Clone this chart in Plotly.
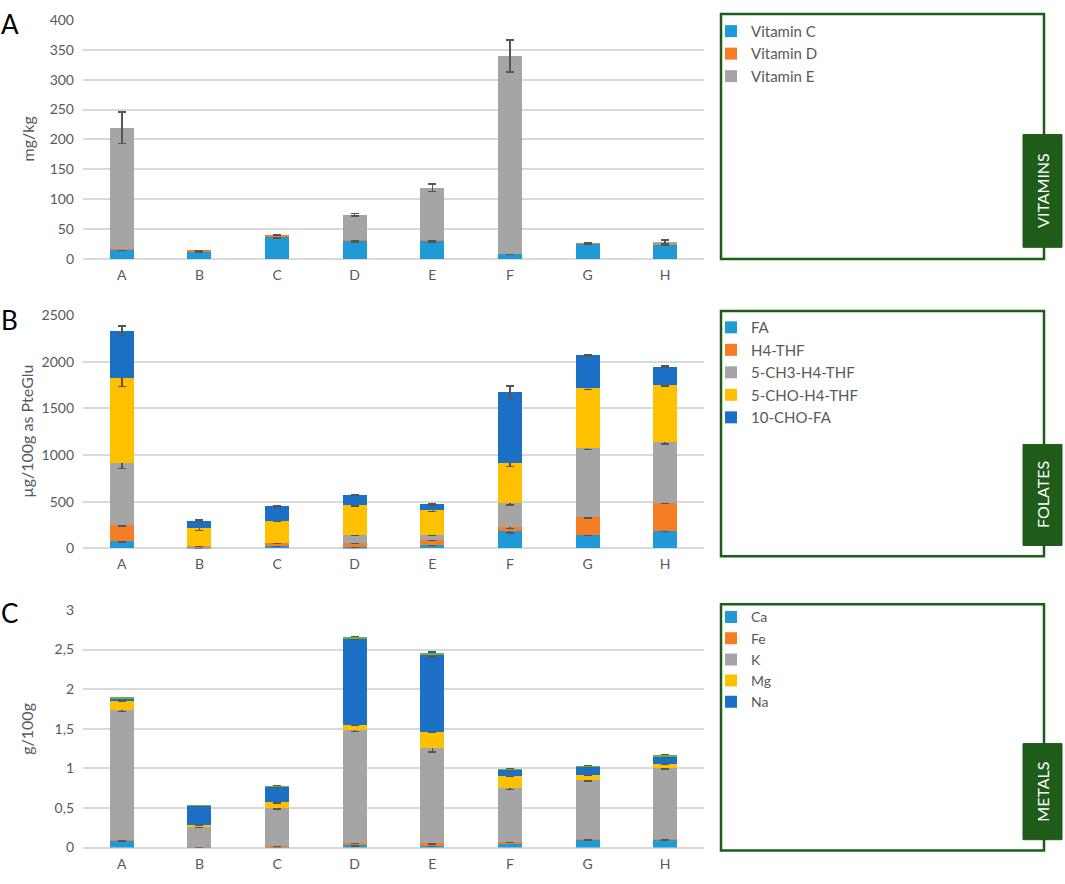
import plotly.graph_objects as go

W, H = 1065, 884

samples = ["A", "B", "C", "D", "E", "F", "G", "H"]

# A - vitamins (mg/kg)
vitamin_names = ["Vitamin C", "Vitamin D", "Vitamin E"]
vitamin_c = [17, 13, 38, 31, 31, 9, 26, 25]
vitamin_d = [0.5, 1, 1.5, 0.3, 0.3, 0.3, 1, 0.3]
vitamin_e = [202, 0, 0, 43, 88, 330, 0, 4]
vitamin_c_err = [2, 1.5, 2.5, 2, 2, 1.5, 1.5, 1]
vitamin_d_err = [0, 0, 0, 0, 0, 0, 0, 0]
vitamin_e_err = [26, 0, 0, 2, 6, 27, 0, 3]

# B - folates (ug/100g as PteGlu)
folate_names = ["FA", "H4-THF", "5-CH3-H4-THF", "5-CHO-H4-THF", "10-CHO-FA"]
fa = [77, 3, 28, 14, 35, 186, 147, 186]
h4_thf = [179, 22, 32, 46, 56, 42, 186, 305]
ch3_thf = [663, 3, 3, 87, 56, 256, 747, 649]
cho_thf = [904, 190, 229, 316, 260, 435, 638, 613]
cho_fa = [509, 73, 158, 105, 66, 753, 351, 193]
fa_err = [8, 2, 3, 3, 5, 22, 3, 5]
h4_thf_err = [15, 3, 8, 5, 5, 15, 5, 8]
ch3_thf_err = [65, 0, 0, 5, 5, 22, 20, 20]
cho_thf_err = [90, 25, 5, 8, 10, 40, 15, 15]
cho_fa_err = [50, 15, 5, 3, 5, 65, 8, 8]

# C - metals (g/100g)
metal_names = ["Ca", "Fe", "K", "Mg", "Na"]
ca = [0.095, 0.005, 0.005, 0.03, 0.025, 0.054, 0.103, 0.103]
fe = [0.005, 0.003, 0.015, 0.03, 0.028, 0.016, 0.008, 0.005]
k = [1.64, 0.26, 0.475, 1.42, 1.205, 0.677, 0.747, 0.895]
mg = [0.115, 0.021, 0.075, 0.07, 0.202, 0.161, 0.062, 0.054]
na = [0.03, 0.24, 0.2, 1.095, 0.975, 0.074, 0.099, 0.099]
other = [0.008, 0.005, 0.007, 0.012, 0.01, 0.008, 0.008, 0.008]
ca_err = [0.01, 0.003, 0.003, 0.01, 0.01, 0.005, 0.01, 0.005]
fe_err = [0.003, 0.002, 0.005, 0.01, 0.01, 0.005, 0.003, 0.003]
k_err = [0.02, 0.01, 0.01, 0.015, 0.05, 0.015, 0.02, 0.015]
mg_err = [0.01, 0.003, 0.01, 0.005, 0.005, 0.01, 0.01, 0.01]
na_err = [0.01, 0.003, 0.01, 0.01, 0.03, 0.01, 0.01, 0.01]

colors = ["#1f9ad6", "#f47d25", "#a5a5a5", "#ffc000", "#1b6fc4"]
GREEN = "#1f5c1a"
TXT = "#595959"
FONT = "Lato"


def px_x(v):
    return v / W


def px_y(v):
    return 1 - v / H


fig = go.Figure()


def add_bars(axis, legend, names, values, errors):
    for i, (name, vals, errs) in enumerate(zip(names, values, errors)):
        fig.add_trace(go.Bar(
            x=samples, y=vals, name=name,
            xaxis="x" if axis == "" else "x" + axis,
            yaxis="y" if axis == "" else "y" + axis,
            legend=legend,
            marker=dict(color=colors[i], line=dict(width=0)),
            error_y=dict(type="data", array=errs, color="#555555", thickness=1.6, width=4),
        ))


add_bars("", "legend", vitamin_names, [vitamin_c, vitamin_d, vitamin_e],
         [vitamin_c_err, vitamin_d_err, vitamin_e_err])
add_bars("2", "legend2", folate_names, [fa, h4_thf, ch3_thf, cho_thf, cho_fa],
         [fa_err, h4_thf_err, ch3_thf_err, cho_thf_err, cho_fa_err])
add_bars("3", "legend3", metal_names, [ca, fe, k, mg, na],
         [ca_err, fe_err, k_err, mg_err, na_err])
fig.add_trace(go.Bar(x=samples, y=other, name="other", xaxis="x3", yaxis="y3",
                     marker=dict(color="#70ad47", line=dict(width=0)), showlegend=False))

# panel geometry in pixels
panels = [
    dict(top=11, bottom=255, ymax=400, dtick=50, title="mg/kg", letter="A", letter_y=15,
         box=(5, 255), label="VITAMINS", lbox=(128, 243), legend_font=15, legend_dy=1),
    dict(top=312, bottom=550, ymax=2500, dtick=500, title="µg/100g as PteGlu", letter="B",
         letter_y=317, box=(308, 558), label="FOLATES", lbox=(444, 547), legend_font=15,
         legend_dy=0),
    dict(top=612.7, bottom=855, ymax=3, dtick=0.5, title="g/100g", letter="C", letter_y=616,
         box=(607, 858), label="METALS", lbox=(749, 847), legend_font=14, legend_dy=-3),
]

layout = dict(
    width=W, height=H, margin=dict(l=0, r=0, t=0, b=0),
    paper_bgcolor="white", plot_bgcolor="white",
    barmode="stack", bargap=0.69, separators=",.",
    font=dict(family=FONT, color=TXT, size=14),
    shapes=[], annotations=[],
)

for n, p in enumerate(panels):
    sfx = "" if n == 0 else str(n + 1)
    layout["xaxis" + sfx] = dict(
        domain=[px_x(83), px_x(704)], anchor="y" + sfx, showgrid=False,
        showline=False, ticks="", tickfont=dict(size=14, color=TXT), ticklabelstandoff=6,
        categoryorder="array", categoryarray=samples,
    )
    layout["yaxis" + sfx] = dict(
        domain=[px_y(p["bottom"]), px_y(p["top"])], anchor="x" + sfx,
        range=[0, p["ymax"]], dtick=p["dtick"],
        showgrid=True, gridcolor="#d9d9d9", gridwidth=1.5, zeroline=True,
        zerolinecolor="#d9d9d9", zerolinewidth=1.5, showline=False, ticks="",
        tickfont=dict(size=14, color=TXT), ticklabelstandoff=8,
    )
    layout["legend" + sfx] = dict(
        x=px_x(711), y=px_y(p["box"][0] + p["legend_dy"]), xanchor="left", yanchor="top",
        bgcolor="rgba(0,0,0,0)", font=dict(size=p["legend_font"], color=TXT),
        itemwidth=30, tracegroupgap=0, traceorder="normal",
    )
    box, lbox = p["box"], p["lbox"]
    layout["shapes"].append(dict(
        type="rect", xref="paper", yref="paper",
        x0=px_x(721), x1=px_x(1044), y0=px_y(box[1]), y1=px_y(box[0]),
        line=dict(color=GREEN, width=2.5), fillcolor="rgba(0,0,0,0)",
    ))
    layout["shapes"].append(dict(
        type="rect", xref="paper", yref="paper",
        x0=px_x(1023), x1=px_x(1062), y0=px_y(lbox[1]), y1=px_y(lbox[0]),
        line=dict(color=GREEN, width=1), fillcolor=GREEN,
    ))
    layout["annotations"].append(dict(
        text=p["label"], xref="paper", yref="paper",
        x=px_x(1043), y=px_y((lbox[0] + lbox[1]) / 2), xanchor="center", yanchor="middle",
        textangle=-90, showarrow=False, font=dict(size=16, color="white", family=FONT),
    ))
    layout["annotations"].append(dict(
        text=p["title"], xref="paper", yref="paper",
        x=px_x(27), y=px_y((p["top"] + p["bottom"]) / 2), xanchor="center", yanchor="middle",
        textangle=-90, showarrow=False, font=dict(size=16, color=TXT, family=FONT),
    ))
    layout["annotations"].append(dict(
        text=p["letter"], xref="paper", yref="paper", x=px_x(-1), y=px_y(p["letter_y"]),
        xanchor="left", yanchor="middle", showarrow=False,
        font=dict(size=26, color="black", family=FONT),
    ))

fig.update_layout(**layout)

# the page's default body margin would push the fixed-size figure off the window
fig.write_html("out.html", config={"displayModeBar": False},
               post_script="document.body.style.margin = '0';")
